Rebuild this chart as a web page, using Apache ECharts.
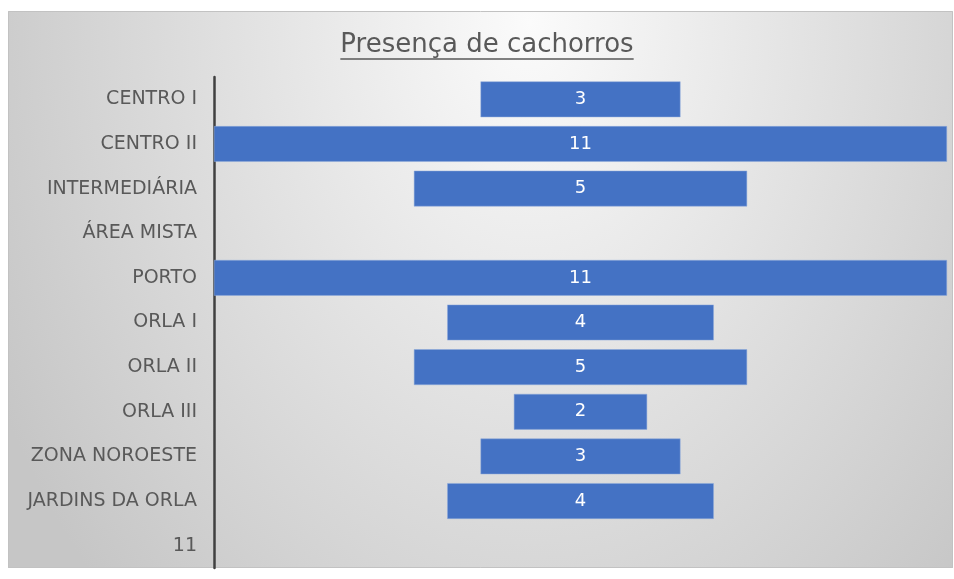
<!DOCTYPE html>
<html>
<head>
<meta charset="utf-8">
<script src="https://cdn.jsdelivr.net/npm/echarts@6/dist/echarts.min.js"></script>
<style>html,body{margin:0;padding:0;background:#fff}#c{width:954px;height:579px}</style>
</head>
<body>
<div id="c"></div>
<script>
const titleText = 'Presença de cachorros';
const categories = ['CENTRO I','CENTRO II','INTERMEDIÁRIA','ÁREA MISTA','PORTO','ORLA I','ORLA II','ORLA III','ZONA NOROESTE','JARDINS DA ORLA','11'];
const values = [3, 11, 5, null, 11, 4, 5, 2, 3, 4, null];
const maxValue = 11;

const offsets = values.map(v => v == null ? null : (maxValue - v) / 2);

const titleFont = '26px "DejaVu Sans"';
const ctx = document.createElement('canvas').getContext('2d');
ctx.font = titleFont;
const tw = ctx.measureText(titleText).width;
const tcx = 487, tcy = 45;

// background: elliptical radial gradient (circle stretched vertically)
const bgX = 8, bgY = 11, bgW = 945, bgH = 557, sy = 1.35;
const bgGrad = new echarts.graphic.RadialGradient(530, bgY + 8, 600, [
  {offset: 0, color: '#fbfbfb'}, {offset: 1, color: '#c6c6c6'}], true);

const chart = echarts.init(document.getElementById('c'), null, {renderer: 'canvas'});
chart.setOption({
  animation: false,
  graphic: [
    {type: 'rect', z: -10, silent: true, originX: 0, originY: bgY, scaleY: sy,
     shape: {x: bgX, y: bgY, width: bgW, height: bgH / sy},
     style: {fill: bgGrad}},
    {type: 'rect', z: -9, silent: true,
     shape: {x: bgX + 0.5, y: bgY + 0.5, width: bgW - 1, height: bgH - 1},
     style: {fill: 'none', stroke: '#c2c2c2', lineWidth: 1}},
    {type: 'text', z: 10, x: tcx, y: tcy,
     style: {text: titleText, font: titleFont, fill: '#595959', align: 'center', verticalAlign: 'middle'}},
    {type: 'line', z: 10, shape: {x1: tcx - tw/2, y1: 59, x2: tcx + tw/2, y2: 59},
     style: {stroke: '#595959', lineWidth: 1.5}}
  ],
  grid: {left: 214, right: 7, top: 77, bottom: 11, containLabel: false},
  xAxis: {type: 'value', min: 0, max: maxValue, show: false},
  yAxis: {
    type: 'category', data: categories, inverse: true,
    axisLine: {show: true, lineStyle: {color: '#404040', width: 2.5}},
    axisTick: {show: false},
    axisLabel: {color: '#595959', fontSize: 19, fontFamily: 'DejaVu Sans', margin: 17}
  },
  series: [
    {type: 'bar', stack: 's', data: offsets, itemStyle: {color: 'transparent'}, barCategoryGap: '20%', silent: true},
    {type: 'bar', stack: 's', data: values, barCategoryGap: '20%',
     itemStyle: {color: '#4472C4', borderColor: '#8eaadb', borderWidth: 0.5},
     label: {show: true, position: 'inside', color: '#ffffff', fontSize: 18, fontFamily: 'DejaVu Sans'}}
  ]
});
</script>
</body>
</html>
